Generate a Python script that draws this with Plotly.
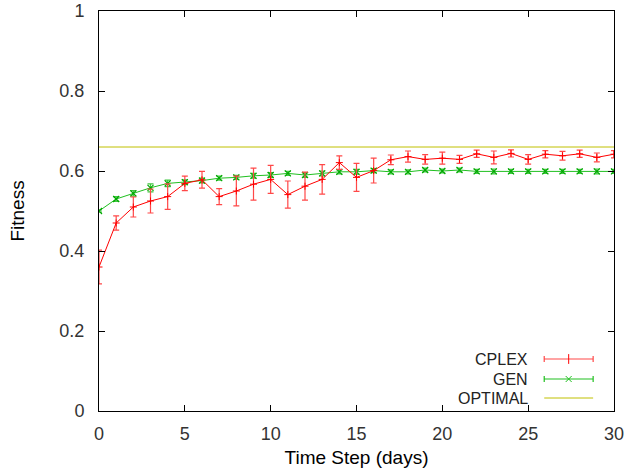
import plotly.graph_objects as go

days = list(range(31))
cplex = [0.36, 0.47, 0.51, 0.525, 0.536, 0.569, 0.578, 0.536, 0.55, 0.567,
         0.579, 0.541, 0.562, 0.579, 0.621, 0.584, 0.601, 0.628, 0.636, 0.629,
         0.632, 0.629, 0.643, 0.634, 0.644, 0.629, 0.642, 0.638, 0.643, 0.634, 0.642]
cplex_err = [0.042, 0.018, 0.025, 0.03, 0.032, 0.018, 0.021, 0.02, 0.037, 0.04,
             0.035, 0.034, 0.035, 0.037, 0.017, 0.035, 0.031, 0.012, 0.014, 0.012,
             0.015, 0.01, 0.009, 0.016, 0.009, 0.012, 0.009, 0.011, 0.009, 0.011, 0.009]
gen = [0.5, 0.53, 0.544, 0.558, 0.569, 0.572, 0.576, 0.582, 0.584, 0.588,
       0.59, 0.594, 0.59, 0.594, 0.598, 0.598, 0.601, 0.598, 0.598, 0.6025,
       0.6, 0.6025, 0.599, 0.599, 0.599, 0.599, 0.599, 0.599, 0.599, 0.599, 0.599]
gen_err = [0.003, 0.006, 0.007, 0.01, 0.008, 0.006, 0.006, 0.005, 0.005, 0.006,
           0.006, 0.005, 0.006, 0.006, 0.005, 0.006, 0.005, 0.005, 0.005, 0.005,
           0.005, 0.005, 0.005, 0.006, 0.005, 0.005, 0.005, 0.005, 0.005, 0.006, 0.005]
optimal_x = [0, 30]
optimal = [0.66, 0.66]

x_ticks = [0, 5, 10, 15, 20, 25, 30]
y_ticks = [0, 0.2, 0.4, 0.6, 0.8, 1]
y_tick_labels = ["0", "0.2", "0.4", "0.6", "0.8", "1"]

legend_names = ["CPLEX", "GEN", "OPTIMAL"]
legend_rows = [0.13, 0.08, 0.0325]

RED = "#ff0000"
RED_ERR = "#ff4848"
GREEN = "#20c020"
GREEN_MK = "#00a800"
GREEN_ERR = "#40c840"
YEL = "#c0c000"
FONT = "Liberation Sans"

fig = go.Figure()

fig.add_trace(go.Scatter(
    x=optimal_x, y=optimal, mode="lines",
    line=dict(color=YEL, width=1), showlegend=False))

fig.add_trace(go.Scatter(
    x=days, y=gen, mode="lines+markers",
    line=dict(color=GREEN, width=1),
    marker=dict(symbol="x-thin", size=6, line=dict(color=GREEN_MK, width=1.2)),
    error_y=dict(type="data", array=gen_err, color=GREEN_ERR, thickness=1.2, width=3),
    showlegend=False))

fig.add_trace(go.Scatter(
    x=days, y=cplex, mode="lines+markers",
    line=dict(color=RED, width=1),
    marker=dict(symbol="cross-thin", size=5, line=dict(color=RED, width=1)),
    error_y=dict(type="data", array=cplex_err, color=RED_ERR, thickness=1.2, width=3),
    showlegend=False))

# legend samples on an overlay axis in paper-like coordinates
lx_mid = 0.912
lx_half = 0.0475
fig.add_trace(go.Scatter(
    x=[lx_mid], y=[legend_rows[0]], mode="markers", xaxis="x2", yaxis="y2",
    marker=dict(symbol="line-ns", size=7, line=dict(color=RED, width=1)),
    error_x=dict(type="constant", value=lx_half, color=RED_ERR, thickness=1.2, width=3),
    showlegend=False, hoverinfo="skip"))
fig.add_trace(go.Scatter(
    x=[lx_mid], y=[legend_rows[1]], mode="markers", xaxis="x2", yaxis="y2",
    marker=dict(symbol="x-thin", size=6, line=dict(color=GREEN, width=1)),
    error_x=dict(type="constant", value=lx_half, color=GREEN, thickness=1.2, width=3),
    showlegend=False, hoverinfo="skip"))
fig.add_trace(go.Scatter(
    x=[lx_mid - lx_half, lx_mid + lx_half], y=[legend_rows[2], legend_rows[2]],
    mode="lines", xaxis="x2", yaxis="y2",
    line=dict(color=YEL, width=1), showlegend=False, hoverinfo="skip"))

for name, yy in zip(legend_names, legend_rows):
    fig.add_annotation(x=0.837, y=yy, xref="paper", yref="paper", text=name,
                       showarrow=False, xanchor="right", yanchor="middle",
                       font=dict(family=FONT, size=16, color="#222222"))

axis_common = dict(
    showline=True, linecolor="black", linewidth=1, mirror="ticks",
    ticks="inside", ticklen=6, tickcolor="black", tickwidth=1,
    showgrid=False, zeroline=False, automargin=False,
    tickfont=dict(family=FONT, size=18, color="#333333"),
)

fig.update_layout(
    width=626, height=472,
    margin=dict(l=99, r=12, t=11, b=61),
    paper_bgcolor="white", plot_bgcolor="white",
    showlegend=False,
    xaxis=dict(range=[0, 30], tickvals=x_ticks, ticklabelstandoff=6,
               title=dict(text="Time Step (days)", standoff=8,
                          font=dict(family=FONT, size=19, color="black")),
               **axis_common),
    yaxis=dict(range=[0, 1], tickvals=y_ticks, ticktext=y_tick_labels,
               ticklabelstandoff=10,
               title=dict(text="Fitness", standoff=29,
                          font=dict(family=FONT, size=19, color="black")),
               **axis_common),
    xaxis2=dict(range=[0, 1], overlaying="x", visible=False, fixedrange=True),
    yaxis2=dict(range=[0, 1], overlaying="y", visible=False, fixedrange=True),
)

fig.write_html("out.html", config={"displayModeBar": False},
               post_script="document.body.style.margin='0';document.body.style.overflow='hidden';")
